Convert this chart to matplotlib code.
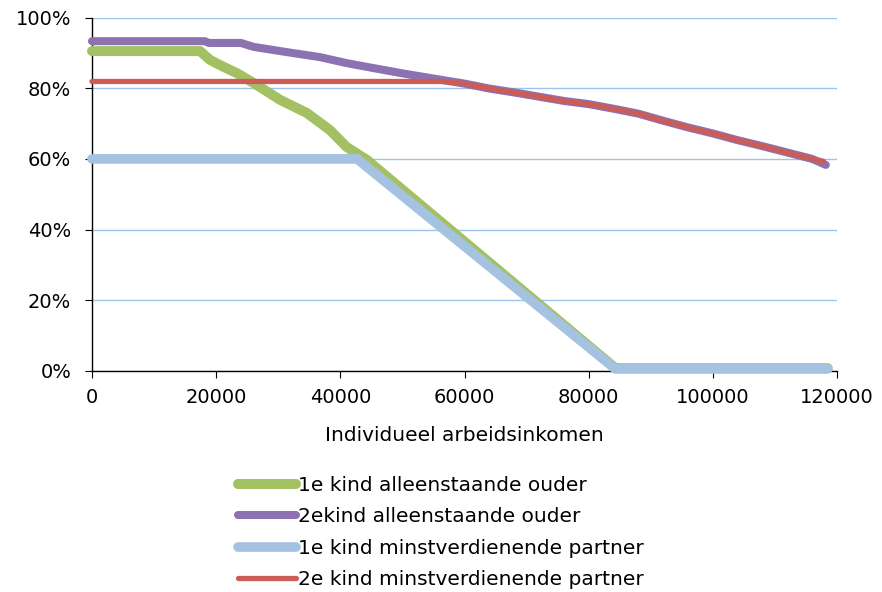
import matplotlib
matplotlib.use("Agg")
import matplotlib.pyplot as plt
from matplotlib.ticker import FuncFormatter

# ---- data (income, percentage) ----
green_x = [0, 17400, 19000, 21000, 23300, 26000, 30300, 34600, 38300, 41000, 44300,
           84300, 85000, 118500]
green_y = [90.5, 90.5, 88.0, 86.2, 84.3, 81.5, 76.7, 73.0, 68.2, 63.4, 59.7,
           0.8, 0.8, 0.8]

decline_x = [60000, 64000, 68000, 72000, 76000, 80000, 84000, 88000, 92000, 96000,
             100000, 104000, 108000, 112000, 116000]
decline_y = [81.3, 79.9, 78.8, 77.6, 76.4, 75.5, 74.2, 72.8, 70.8, 68.9,
             67.2, 65.3, 63.6, 61.8, 60.0]

purple_x = [0, 18200, 18800, 24000, 26000, 31400, 36700, 41000, 45300, 50000, 56500] + decline_x + [118200]
purple_y = [93.3, 93.3, 92.8, 92.8, 91.7, 90.2, 88.8, 87.1, 85.7, 84.2, 82.3] + decline_y + [58.3]

blue_x = [0, 42700, 84300, 118500]
blue_y = [60.0, 60.0, 0.6, 0.6]

red_x = [0, 56500] + decline_x + [117800]
red_y = [81.9, 81.9] + decline_y + [59.3]

labels = ["1e kind alleenstaande ouder", "2ekind alleenstaande ouder",
          "1e kind minstverdienende partner", "2e kind minstverdienende partner"]
colors = ["#A3C162", "#8C72B0", "#A6C2E1", "#CB5C57"]

xticks = [0, 20000, 40000, 60000, 80000, 100000, 120000]
yticks = [0, 20, 40, 60, 80, 100]

plt.rcParams['font.family'] = ['DejaVu Sans']
fig = plt.figure(figsize=(8.82, 5.92), dpi=100)
ax = fig.add_axes([92/882, 1-371/592, (837-92)/882, (371-17.5)/592])

series = [(green_x, green_y, 7.2), (purple_x, purple_y, 5.8),
          (blue_x, blue_y, 7.0), (red_x, red_y, 3.8)]
for (xs, ys, lw), lab, col in zip(series, labels, colors):
    ax.plot(xs, ys, color=col, lw=lw, label=lab, solid_capstyle='round',
            solid_joinstyle='round', clip_on=False, zorder=3)

ax.set_xlim(0, 120000)
ax.set_ylim(0, 100)
ax.set_xticks(xticks)
ax.set_yticks(yticks)
ax.yaxis.set_major_formatter(FuncFormatter(lambda v, p: f"{int(v)}%"))
ax.grid(axis='y', color='#9DC3EE', lw=1.0, zorder=0)
ax.set_axisbelow(True)
for s in ['top', 'right']:
    ax.spines[s].set_visible(False)
for s in ['left', 'bottom']:
    ax.spines[s].set_color('black')
    ax.spines[s].set_linewidth(1.0)
ax.tick_params(axis='both', direction='out', length=5, color='black',
               labelsize=14)
ax.tick_params(axis='y', pad=10)
ax.tick_params(axis='x', pad=7)
ax.set_xlabel("Individueel arbeidsinkomen", fontsize=14.5, labelpad=14)

leg = fig.legend(loc='upper left', bbox_to_anchor=(238/882, 1-476/592),
                 frameon=False, fontsize=14.5, handlelength=2.9,
                 handletextpad=0.1, labelspacing=0.62, borderpad=0,
                 borderaxespad=0)
for h in leg.get_lines():
    h.set_solid_capstyle('round')

fig.savefig("out.png", dpi=100)
